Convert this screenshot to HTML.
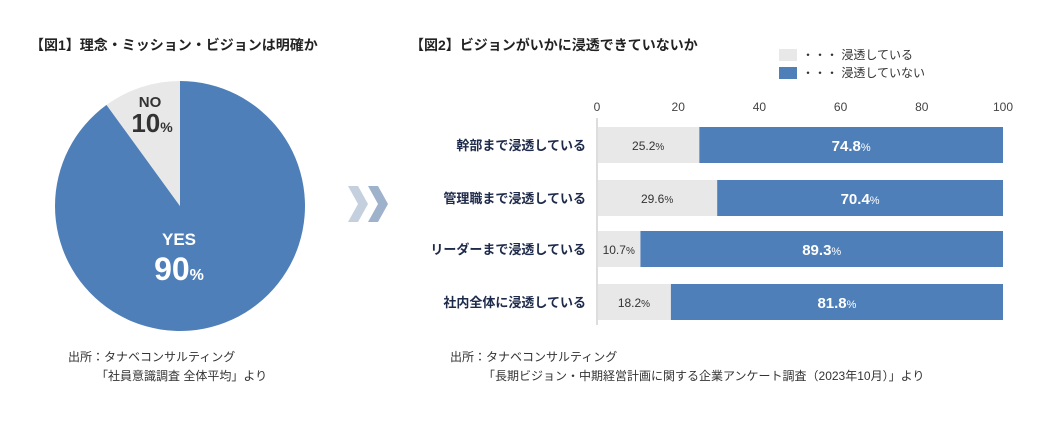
<!DOCTYPE html>
<html><head><meta charset="utf-8"><style>
body{margin:0;width:1040px;height:417px;background:#fff;font-family:"Liberation Sans","Noto Sans CJK JP",sans-serif;overflow:hidden}
svg text{font-family:"Liberation Sans","Noto Sans CJK JP",sans-serif}
</style></head><body>
<svg width="1040" height="417">
<text x="30" y="50" font-size="14" font-weight="bold" fill="#222">【図1】理念・ミッション・ビジョンは明確か</text>
<g id="pie"></g>
<text x="179" y="245" font-size="17" font-weight="bold" fill="#fff" text-anchor="middle">YES</text>
<text x="179" y="280" font-size="32" font-weight="bold" fill="#fff" text-anchor="middle">90<tspan font-size="16">%</tspan></text>
<text x="150" y="107" font-size="15" font-weight="bold" fill="#333" text-anchor="middle">NO</text>
<text x="152" y="132" font-size="26" font-weight="bold" fill="#333" text-anchor="middle">10<tspan font-size="14">%</tspan></text>
<text x="68" y="361" font-size="12" fill="#333">出所：タナベコンサルティング</text>
<text x="96" y="380" font-size="12" fill="#333">「社員意識調査 全体平均」より</text>
<polygon points="348,186 358,186 368,204 358,222 348,222 358,204" fill="#c5d0df"/>
<polygon points="368,186 378,186 388,204 378,222 368,222 378,204" fill="#9fb2cc"/>
<text x="410" y="50" font-size="14" font-weight="bold" fill="#222">【図2】ビジョンがいかに浸透できていないか</text>
<rect x="779" y="49" width="18" height="12" fill="#e8e8e8"/>
<text x="802" y="59" font-size="12" fill="#333">・・・ 浸透している</text>
<rect x="779" y="67" width="18" height="12" fill="#4f7fb8"/>
<text x="802" y="77" font-size="12" fill="#333">・・・ 浸透していない</text>
<g id="bars"></g>
<text x="450" y="361" font-size="12" fill="#333">出所：タナベコンサルティング</text>
<text x="483" y="380" font-size="12" fill="#333">「長期ビジョン・中期経営計画に関する企業アンケート調査（2023年10月）」より</text>
</svg>
<script>
const pieValues=[90,10];
const categories=["幹部まで浸透している","管理職まで浸透している","リーダーまで浸透している","社内全体に浸透している"];
const penetrated=[25.2,29.6,10.7,18.2];
const notPenetrated=[74.8,70.4,89.3,81.8];
const ticks=[0,20,40,60,80,100];
const NS="http://www.w3.org/2000/svg";
function mk(t,a,p){const e=document.createElementNS(NS,t);for(const k in a)e.setAttribute(k,a[k]);p.appendChild(e);return e;}
// pie
const pie=document.getElementById('pie');
const cx=180,cy=206,r=125,tot=pieValues[0]+pieValues[1];
const colors=["#4f7fb8","#e8e8e8"];
let a0=0;
pieValues.forEach((v,i)=>{
 const a1=a0+v/tot*2*Math.PI;
 const x0=cx+r*Math.sin(a0),y0=cy-r*Math.cos(a0),x1=cx+r*Math.sin(a1),y1=cy-r*Math.cos(a1);
 const p=mk('path',{d:`M${cx},${cy}L${x0},${y0}A${r},${r} 0 ${a1-a0>Math.PI?1:0} 1 ${x1},${y1}Z`,fill:colors[i]},pie);
 
 
 a0=a1;
});
// bars
const g=document.getElementById('bars');
const x=v=>597+v*4.06;
const rowY=[127,180,231,284],bh=36;
ticks.forEach(t=>{const e=mk('text',{x:x(t),y:111,'font-size':12,fill:'#444','text-anchor':'middle'},g);e.textContent=t;
 
 });
const ax=mk('line',{x1:597,y1:118,x2:597,y2:325,stroke:'#bbb'},g);


categories.forEach((c,i)=>{
 const y=rowY[i];
 const l=mk('text',{x:586,y:y+bh/2+5,'font-size':13,'font-weight':'bold',fill:'#1e2a4a','text-anchor':'end'},g);l.textContent=c;
 
 
 const b1=mk('rect',{x:x(0)+1,y:y,width:x(penetrated[i])-x(0)-1,height:bh,fill:'#e8e8e8'},g);
 
 
 const b2=mk('rect',{x:x(penetrated[i]),y:y,width:x(penetrated[i]+notPenetrated[i])-x(penetrated[i]),height:bh,fill:'#4f7fb8'},g);
 
 
 const t1=mk('text',{x:(x(0)+x(penetrated[i]))/2,y:y+bh/2+5,'font-size':12,fill:'#333','text-anchor':'middle'},g);
 t1.innerHTML=penetrated[i].toFixed(1)+'<tspan font-size="10">%</tspan>';
 
 
 const t2=mk('text',{x:(x(penetrated[i])+x(penetrated[i]+notPenetrated[i]))/2,y:y+bh/2+6,'font-size':15,'font-weight':'bold',fill:'#fff','text-anchor':'middle'},g);
 t2.innerHTML=notPenetrated[i].toFixed(1)+'<tspan font-size="11" font-weight="normal">%</tspan>';
 
 
});
</script>
</body></html>
